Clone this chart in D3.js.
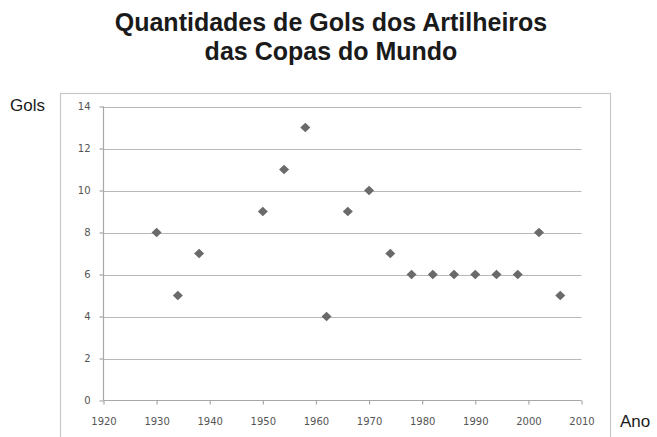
<!DOCTYPE html>
<html><head><meta charset="utf-8">
<script src="https://cdn.jsdelivr.net/npm/d3@7"></script>
<style>body{margin:0;background:#fff}svg{display:block}</style>
</head><body>
<script>
const years = [1930,1934,1938,1950,1954,1958,1962,1966,1970,1974,1978,1982,1986,1990,1994,1998,2002,2006];
const goals = [8,5,7,9,11,13,4,9,10,7,6,6,6,6,6,6,8,5];
const xTicks = [1920,1930,1940,1950,1960,1970,1980,1990,2000,2010];
const yTicks = [0,2,4,6,8,10,12,14];
const titleLines = ["Quantidades de Gols dos Artilheiros","das Copas do Mundo"];

const W=657,H=437;
const svg=d3.select("body").append("svg").attr("width",W).attr("height",H);
const x=d3.scaleLinear().domain([1920,2010]).range([103.5,581.5]);
const y=d3.scaleLinear().domain([0,14]).range([400.5,106.5]);

// outer box
svg.append("rect").attr("x",60.5).attr("y",93.5).attr("width",550).attr("height",360)
  .attr("fill","none").attr("stroke","#c8c8c8").attr("stroke-width",1.2);

// title
svg.append("text").attr("x",331).attr("text-anchor","middle")
  .attr("font-family","Liberation Sans, Arial, sans-serif").attr("font-weight","bold")
  .attr("font-size",25).attr("fill","#1a1a1a")
  .selectAll("tspan").data(titleLines).join("tspan")
  .attr("x",331).attr("y",(d,i)=>31+i*29).text(d=>d);

// gridlines
svg.append("g").selectAll("line").data(yTicks.filter(d=>d>0)).join("line")
  .attr("x1",x(1920)).attr("x2",x(2010)).attr("y1",d=>Math.round(y(d))+0.5).attr("y2",d=>Math.round(y(d))+0.5)
  .attr("stroke","#b8b8b8").attr("stroke-width",1.2);

// y axis
const ya=svg.append("g").attr("transform",`translate(${x(1920)},0)`)
  .call(d3.axisLeft(y).tickValues(yTicks).tickSize(4).tickPadding(9).tickFormat(d3.format("d")));
// x axis
const xa=svg.append("g").attr("transform",`translate(0,${y(0)})`)
  .call(d3.axisBottom(x).tickValues(xTicks).tickSize(4).tickPadding(13).tickFormat(d3.format("d")));
[ya,xa].forEach(g=>{
  g.selectAll("path,line").attr("stroke","#a8a8a8").attr("stroke-width",1.2);
  g.selectAll("text").attr("font-family","DejaVu Sans, sans-serif").attr("font-size",10).attr("fill","#555");
});
ya.select(".domain").attr("d",`M0,${y(14)}V${y(0)}`);
xa.select(".domain").attr("d",`M${x(1920)},0H${x(2010)}`);
xa.selectAll(".tick line").attr("y1",0).attr("y2",4);

// axis titles
svg.append("text").attr("x",10).attr("y",111).text("Gols")
  .attr("font-family","Liberation Sans, Arial, sans-serif").attr("font-size",17).attr("fill","#1a1a1a");
svg.append("text").attr("x",620).attr("y",427).text("Ano")
  .attr("font-family","Liberation Sans, Arial, sans-serif").attr("font-size",17).attr("fill","#1a1a1a");

// points
const sym=d3.symbol().type(d3.symbolDiamond2).size(64);
svg.append("g").selectAll("path").data(years.map((yr,i)=>({yr,g:goals[i]}))).join("path")
  .attr("d",sym).attr("transform",d=>`translate(${x(d.yr)},${y(d.g)}) scale(1,0.95)`)
  .attr("fill","#6a6a6a");
</script>
</body></html>
